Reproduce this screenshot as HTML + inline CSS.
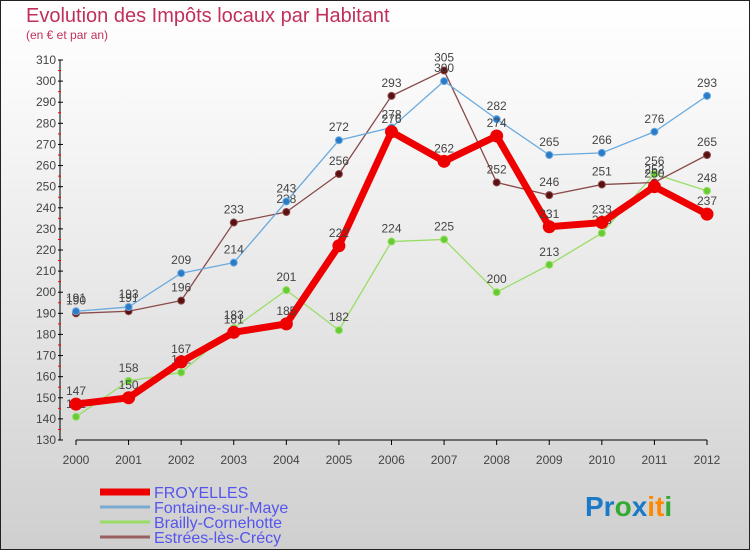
<!DOCTYPE html>
<html><head><meta charset="utf-8"><style>
body{margin:0}
#wrap{width:748px;height:548px;border:1px solid #222;background:linear-gradient(#fff,#fafafa 15%,#e4e4e4 60%,#cfcfcf);position:relative;font-family:"Liberation Sans",sans-serif;overflow:hidden}
svg{position:absolute;left:-1px;top:-1px}
</style></head><body>
<div id="wrap">
<svg id="c" width="750" height="550">
<text x="26" y="22" font-size="20" fill="#c0305a">Evolution des Impôts locaux par Habitant</text>
<text x="26" y="39" font-size="12" fill="#c0305a">(en € et par an)</text>
<g id="g"></g>
<text x="585" y="516" font-size="28" font-weight="bold"><tspan fill="#1a7ac8">Pr</tspan><tspan fill="#3a3">o</tspan><tspan fill="#1a7ac8">x</tspan><tspan fill="#f80">it</tspan><tspan fill="#3a3">i</tspan></text>
</svg>
</div>
<script>
const years=[2000,2001,2002,2003,2004,2005,2006,2007,2008,2009,2010,2011,2012];
const yTicks=[130,140,150,160,170,180,190,200,210,220,230,240,250,260,270,280,290,300,310];
const froyelles=[147,150,167,181,185,222,276,262,274,231,233,250,237];
const fontaine=[191,193,209,214,243,272,278,300,282,265,266,276,293];
const brailly=[141,158,162,183,201,182,224,225,200,213,228,256,248];
const estrees=[190,191,196,233,238,256,293,305,252,246,251,252,265];
const NS="http://www.w3.org/2000/svg";
const g=document.getElementById('g');
const X=i=>76+i*(707-76)/12;
const Y=v=>440-(v-130)*(380/180);
function mk(t,a,p){const e=document.createElementNS(NS,t);for(const k in a)e.setAttribute(k,a[k]);(p||g).appendChild(e);return e;}
let ax=mk('line',{x1:60,y1:Y(310),x2:60,y2:440,stroke:'#000','stroke-width':1});


let bx=mk('line',{x1:76,y1:440,x2:707,y2:440,stroke:'#000','stroke-width':1});


yTicks.forEach((v,i)=>{
  mk('line',{x1:58,y1:Y(v),x2:63,y2:Y(v),stroke:'#000'});
  if(i<yTicks.length-1)mk('line',{x1:58,y1:Y(v+5),x2:61,y2:Y(v+5),stroke:'#f00'});
  const t=mk('text',{x:56,y:Y(v)+4,'font-size':12,'text-anchor':'end',fill:'#444'});t.textContent=v;
  
  
});
years.forEach((yr,i)=>{
  mk('line',{x1:X(i),y1:440,x2:X(i),y2:445,stroke:'#000'});
  const t=mk('text',{x:X(i),y:464,'font-size':12,'text-anchor':'middle',fill:'#444'});t.textContent=yr;
  
  
});
function series(d,col,dot,w,r,name){
  const pl=mk('polyline',{points:d.map((v,i)=>X(i)+','+Y(v)).join(' '),fill:'none',stroke:col,'stroke-width':w,'stroke-linejoin':'round'});
  
  
  d.forEach((v,i)=>{
    const c=mk('circle',{cx:X(i),cy:Y(v),r:r,fill:dot,stroke:col,'stroke-width':1});
    
    
    const t=mk('text',{x:X(i),y:Y(v)-9,'font-size':12,'text-anchor':'middle',fill:'#444'});t.textContent=v;
    
    
  });
}
series(brailly,'#99dd66','#66cc33',1.3,3.5,'brailly');
series(estrees,'#8a4a4a','#5a1010',1.3,3.5,'estrees');
series(fontaine,'#6aaade','#2a7ac8',1.3,3.5,'fontaine');
series(froyelles,'#ee0000','#ee0000',7,6,'froyelles');
const leg=[['FROYELLES','#ee0000',7],['Fontaine-sur-Maye','#7aaad0',3],['Brailly-Cornehotte','#99dd66',3],['Estrées-lès-Crécy','#9a6060',3]];
leg.forEach((l,i)=>{
  const y=492+i*15;
  const s=mk('line',{x1:100,y1:y,x2:150,y2:y,stroke:l[1],'stroke-width':l[2]});
  
  
  const t=mk('text',{x:154,y:y+6,'font-size':16,fill:'#5555ee'});t.textContent=l[0];
  
  
});
</script>
</body></html>
